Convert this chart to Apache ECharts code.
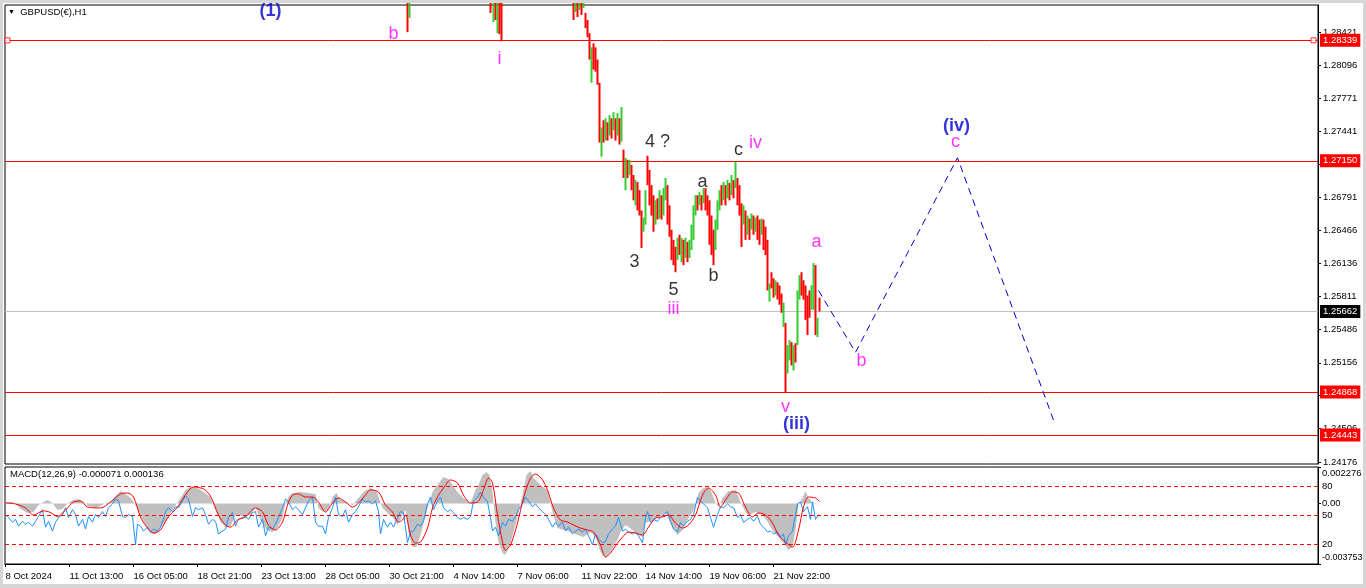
<!DOCTYPE html>
<html><head><meta charset="utf-8">
<script src="https://cdn.jsdelivr.net/npm/echarts@6/dist/echarts.min.js"></script>
<style>
html,body{margin:0;padding:0;background:#fff;}
#c{position:absolute;left:0;top:0;width:1366px;height:588px;}
#frame{position:absolute;left:0;top:0;width:1366px;height:588px;box-sizing:border-box;
  border-style:solid;border-color:#d6d6d6;border-width:3px 3px 4px 3px;pointer-events:none;}
</style></head><body>
<div id="c"></div>
<div id="frame"></div>
<script>
// ---------- DATA ----------
const timeLabels = ['8 Oct 2024','11 Oct 13:00','16 Oct 05:00','18 Oct 21:00','23 Oct 13:00','28 Oct 05:00','30 Oct 21:00','4 Nov 14:00','7 Nov 06:00','11 Nov 22:00','14 Nov 14:00','19 Nov 06:00','21 Nov 22:00'];
const hoursPerLabel = 64;
const totalSlots = 1313;
const priceTicks = [1.28421,1.28096,1.27771,1.27441,1.27116,1.26791,1.26466,1.26136,1.25811,1.25486,1.25156,1.24831,1.24506,1.24176];
const priceMin = 1.24157, priceMax = 1.28688;

const candleIdx = [402,404,485,488,490,492,494,496,568,570,572,574,576,578,
580,582,584,586,588,590,592,594,596,598,600,602,604,606,608,610,612,614,616,618,620,622,624,626,628,630,632,634,636,638,640,642,644,646,648,650,652,654,656,658,660,662,664,666,668,670,672,674,676,678,680,682,684,686,688,690,692,694,696,698,700,702,704,706,708,710,712,714,716,718,720,722,724,726,728,730,732,734,736,738,740,742,744,746,748,750,752,754,756,758,760,762,764,766,768,770,772,774,776,778,780,782,784,786,788,790,792,794,796,798,800,802,804,806,808,810,812,814];
const candleOpen = [1.2890,1.2856,1.2890,1.2852,1.2890,1.2841,1.2890,1.2890,1.2890,1.2862,1.2890,1.2864,1.2890,1.2866,
1.2861,1.2854,1.2841,1.2792,1.2831,1.2827,1.2815,1.2792,1.2719,1.2755,1.2735,1.2753,1.2740,1.2757,1.2745,1.2757,1.2740,1.2757,1.2734,1.2726,1.2686,1.2716,1.2701,1.2711,1.2701,1.2671,1.2694,1.2686,1.2666,1.2645,1.2652,1.2720,1.2706,1.2691,1.2681,1.2652,1.2678,1.2658,1.2681,1.2661,1.2676,1.2691,1.2671,1.2647,1.2637,1.2630,1.2617,1.2642,1.2615,1.2637,1.2619,1.2635,1.2619,1.2627,1.2637,1.2661,1.2681,1.2671,1.2681,1.2673,1.2688,1.2681,1.2676,1.2661,1.2647,1.2627,1.2647,1.2666,1.2691,1.2676,1.2691,1.2678,1.2693,1.2681,1.2696,1.2688,1.2698,1.2691,1.2673,1.2652,1.2666,1.2642,1.2658,1.2647,1.2661,1.2645,1.2661,1.2657,1.2642,1.2657,1.2650,1.2637,1.2576,1.2605,1.2599,1.2582,1.2595,1.2592,1.2584,1.2551,1.2555,1.2505,1.2518,1.2536,1.2508,1.2535,1.2533,1.2578,1.2605,1.2597,1.2592,1.2582,1.2587,1.2568,1.2568,1.2612,1.2541,1.2580];
const candleClose = [1.2842,1.2890,1.2861,1.2890,1.2854,1.2890,1.2840,1.2833,1.2854,1.2890,1.2857,1.2890,1.2859,1.2890,
1.2846,1.2837,1.2815,1.2827,1.2805,1.2803,1.2790,1.2733,1.2748,1.2733,1.2757,1.2735,1.2760,1.2737,1.2763,1.2735,1.2762,1.2731,1.2768,1.2698,1.2718,1.2698,1.2716,1.2686,1.2676,1.2696,1.2666,1.2661,1.2629,1.2659,1.2686,1.2691,1.2671,1.2661,1.2645,1.2676,1.2657,1.2686,1.2657,1.2688,1.2698,1.2652,1.2640,1.2617,1.2612,1.2605,1.2639,1.2622,1.2639,1.2612,1.2639,1.2615,1.2637,1.2652,1.2671,1.2681,1.2666,1.2684,1.2666,1.2688,1.2666,1.2661,1.2632,1.2622,1.2612,1.2657,1.2676,1.2686,1.2671,1.2694,1.2671,1.2696,1.2676,1.2701,1.2678,1.2714,1.2671,1.2661,1.2630,1.2671,1.2637,1.2661,1.2637,1.2663,1.2642,1.2659,1.2637,1.2632,1.2658,1.2627,1.2622,1.2587,1.2594,1.2589,1.2580,1.2597,1.2578,1.2573,1.2565,1.2575,1.24868,1.2533,1.2538,1.2513,1.2533,1.2516,1.2587,1.2602,1.2582,1.2578,1.2558,1.2543,1.2560,1.2592,1.2614,1.2543,1.2560,1.25662];

const levelPrices = [1.28339, 1.27150, 1.24868, 1.24443];
const bidPrice = 1.25662;
const selectedLevelEnds = [2, 1308];   // anchor squares of the selected 1.28339 line

const projIdx = [813, 850, 952, 1048];
const projPrice = [1.2587, 1.2526, 1.2718, 1.2459];

const blueText = ['(1)','(iii)','(iv)'];
const blueIdx = [265, 791, 951];
const bluePrice = [1.2863, 1.2455, 1.2749];
const magentaText = ['b','i','iv','iii','a','b','v','c'];
const magentaIdx = [388, 494, 750, 668, 811, 856, 780, 950];
const magentaPrice = [1.2840, 1.2815, 1.2733, 1.2569, 1.2635, 1.2517, 1.2472, 1.2734];
const blackText = ['4 ?','c','a','3','b','5'];
const blackIdx = [652, 733, 697, 629, 708, 668];
const blackPrice = [1.2734, 1.2726, 1.2694, 1.2615, 1.2601, 1.2587];

const macdMainIdx = [0,7,10,15,22,28,33,38,42,47,52,57,62,68,73,78,83,90,95,100,105,110,115,120,125,130,135,140,145,150,155,162,168,175,180,185,192,198,205,210,215,220,225,230,237,245,250,255,261,267,272,277,280,283,287,295,303,310,313,318,323,327,331,335,341,347,353,359,365,371,377,382,387,392,397,400,403,407,411,415,422,427,432,438,443,447,452,458,465,470,473,477,481,484,487,490,493,497,500,505,510,513,517,521,525,528,535,542,547,552,558,565,572,578,585,590,595,600,605,612,615,620,627,633,637,640,647,653,660,667,672,677,682,687,690,693,698,702,705,710,713,717,723,730,735,740,743,750,757,763,768,773,778,783,787,790,793,797,800,803,807,810,814];
const macdMain = [0.00010,0.00010,-0.00002,-0.00034,-0.00058,-0.00052,-0.00009,0.00010,0.00022,0.00004,-0.00040,-0.00034,0.00004,0.00022,0.00029,0.00010,-0.00015,-0.00027,-0.00015,0.00004,0.00010,0.00047,0.00078,0.00060,0.00035,-0.00009,-0.00071,-0.00133,-0.00183,-0.00190,-0.00152,-0.00090,-0.00027,0.00035,0.00085,0.00103,0.00097,0.00072,0.00041,-0.00040,-0.00114,-0.00146,-0.00140,-0.00071,-0.00077,-0.00071,-0.00021,-0.00102,-0.00164,-0.00177,-0.00152,-0.00090,0.00004,0.00041,0.00066,0.00072,0.00066,0.00060,-0.00027,-0.00052,-0.00040,0.00041,0.00066,0.00022,0.00010,-0.00009,0.00035,0.00078,0.00097,0.00078,-0.00027,-0.00058,-0.00083,-0.00133,-0.00071,-0.00040,-0.00177,-0.00270,-0.00270,-0.00195,-0.00027,0.00072,0.00116,0.00165,0.00153,0.00116,0.00072,0.00035,0.00004,0.00085,0.00116,0.00178,0.00197,0.00178,0.00072,-0.00114,-0.00239,-0.00307,-0.00320,-0.00245,-0.00133,-0.00052,0.00053,0.00178,0.00203,0.00159,0.00116,0.00085,-0.00052,-0.00152,-0.00164,-0.00177,-0.00195,-0.00208,-0.00177,-0.00208,-0.00301,-0.00338,-0.00301,-0.00226,-0.00177,-0.00133,-0.00164,-0.00195,-0.00208,-0.00121,-0.00102,-0.00083,-0.00058,-0.00146,-0.00195,-0.00164,-0.00102,-0.00052,-0.00009,0.00066,0.00097,0.00103,0.00085,0.00004,-0.00021,0.00035,0.00078,0.00085,0.00010,-0.00052,-0.00071,-0.00052,-0.00071,-0.00121,-0.00177,-0.00208,-0.00245,-0.00289,-0.00270,-0.00164,-0.00009,0.00035,0.00078,0.00035,0.00010,-0.00002,-0.000071];

const signalIdx = [0,10,20,28,38,45,52,60,68,75,82,95,105,115,122,128,135,142,148,155,162,172,182,188,198,205,213,220,225,232,240,250,257,263,270,277,282,287,293,300,307,313,320,327,333,340,347,353,360,365,373,380,387,393,397,400,405,410,415,422,427,432,438,445,452,458,465,472,478,483,487,492,497,500,505,512,518,525,530,537,542,548,555,562,568,575,582,588,595,600,605,612,617,623,630,637,643,650,657,663,670,677,683,690,697,703,710,715,720,727,733,740,747,753,760,767,773,780,787,793,798,803,810,814];
const macdSignal = [0.00004,-0.00002,-0.00027,-0.00071,-0.00045,-0.00055,-0.00080,-0.00040,0.00010,0.00016,-0.00021,-0.00027,0.00010,0.00060,0.00066,0.00041,-0.00083,-0.00152,-0.00183,-0.00164,-0.00090,-0.00021,0.00072,0.00103,0.00091,0.00047,-0.00071,-0.00133,-0.00146,-0.00102,-0.00083,-0.00027,-0.00052,-0.00133,-0.00164,-0.00114,-0.00009,0.00053,0.00060,0.00041,0.00041,0.00010,-0.00052,0.00004,0.00035,0.00010,-0.00021,0.00004,0.00053,0.00085,0.00072,-0.00009,-0.00052,-0.00114,-0.00102,-0.00071,-0.00195,-0.00245,-0.00239,-0.00152,-0.00027,0.00041,0.00097,0.00147,0.00128,0.00053,0.00004,0.00010,0.00085,0.00159,0.00128,-0.00071,-0.00239,-0.00289,-0.00258,-0.00121,0.00035,0.00159,0.00184,0.00147,0.00085,-0.00027,-0.00102,-0.00114,-0.00133,-0.00152,-0.00164,-0.00177,-0.00258,-0.00332,-0.00307,-0.00245,-0.00208,-0.00177,-0.00183,-0.00195,-0.00146,-0.00090,-0.00083,-0.00071,-0.00121,-0.00152,-0.00133,-0.00071,0.00053,0.00097,0.00053,-0.00021,0.00022,0.00072,0.00066,-0.00021,-0.00083,-0.00058,-0.00071,-0.00121,-0.00195,-0.00239,-0.00270,-0.00164,-0.00021,0.00041,0.00035,0.000136];

const oscIdx = [0,3,7,10,13,17,20,23,27,30,33,37,40,43,47,50,53,57,60,63,67,70,73,77,80,83,87,90,93,97,100,103,107,110,113,117,120,123,127,130,132,135,138,142,145,148,152,155,158,160,163,167,170,173,177,180,183,187,190,193,197,200,203,207,210,213,217,220,223,227,230,233,237,240,243,247,250,253,257,260,263,267,270,273,277,280,283,287,290,293,297,300,303,307,310,313,317,320,323,327,330,333,337,340,343,347,350,353,357,360,363,367,370,373,375,378,382,385,388,392,395,398,402,405,408,412,415,418,422,425,428,432,435,438,442,445,448,452,455,458,462,465,468,472,475,478,482,485,487,490,493,497,500,503,507,510,513,517,520,523,527,530,533,537,540,543,547,550,553,557,560,563,567,570,573,577,580,583,587,590,593,597,600,603,607,610,613,617,620,623,627,630,633,637,640,642,645,648,652,655,658,662,665,668,672,675,678,682,685,688,692,695,698,702,705,708,712,715,718,722,725,728,732,735,738,742,745,748,752,755,758,762,765,768,772,775,778,780,783,787,790,792,795,798,802,805,807,810,813];
const oscValues = [51,48,43,46,39,44,41,43,39,44,49,56,38,44,34,43,48,51,58,48,56,51,39,46,36,49,43,51,48,54,49,58,62,67,65,49,48,51,49,20,41,39,34,38,33,36,34,38,46,54,58,54,59,58,65,70,67,49,58,56,58,51,41,46,44,31,34,36,48,53,39,46,48,49,46,53,54,38,46,29,38,36,41,48,58,67,64,56,59,56,51,58,65,69,43,39,39,31,48,58,69,51,49,56,43,51,54,59,67,64,65,62,65,54,31,46,38,43,38,48,54,53,22,33,34,41,39,44,62,69,56,65,69,58,54,56,53,48,46,48,46,49,65,69,74,69,64,48,34,38,29,43,39,46,44,49,56,62,69,65,59,62,58,54,51,46,38,43,39,43,34,38,31,34,36,33,36,29,20,31,26,22,23,31,36,39,48,34,36,33,31,33,29,22,48,54,43,46,44,48,51,54,44,36,33,43,39,44,46,51,69,65,62,58,48,38,51,59,58,62,59,58,48,51,43,46,48,44,49,41,38,33,34,31,33,28,31,20,29,34,51,62,64,54,59,46,64,46,51];
const oscLevels = [80, 50, 20];
const macdAxisValues = [-0.003753, 0, 0.002276];

// ---------- BUILD ----------
const FONT = 'Liberation Sans, Arial, sans-serif';
const AX = 9.5;
const categories = [];
for (let i = 0; i < totalSlots; i++) {
  const k = i / hoursPerLabel;
  categories.push(i % hoursPerLabel === 0 && k < timeLabels.length ? timeLabels[k] : '');
}
const tickFn = (i) => i % hoursPerLabel === 0 && i / hoursPerLabel < timeLabels.length;

const candleData = candleIdx.map((x, i) => {
  const o = candleOpen[i], c = candleClose[i];
  return [x, o, c, Math.min(o, c), Math.max(o, c)];
});
const pairs = (xs, ys) => xs.map((x, i) => [x, ys[i]]);

const labelSeries = (texts, xs, ys, color, size, weight) => ({
  type: 'scatter', xAxisIndex: 0, yAxisIndex: 0, silent: true,
  symbolSize: 1, itemStyle: { color: 'rgba(0,0,0,0)' },
  data: pairs(xs, ys),
  label: { show: true, position: 'inside', color: color, fontSize: size, fontWeight: weight, fontFamily: FONT,
           formatter: (p) => texts[p.dataIndex] },
  z: 10
});

const markLineData = levelPrices.map(p => ({
  yAxis: p,
  lineStyle: { color: '#ff0000', width: 1, type: 'solid' },
  label: { formatter: p.toFixed(5), backgroundColor: '#ff0000', color: '#ffffff' }
})).concat([{
  yAxis: bidPrice,
  lineStyle: { color: '#c0c0c0', width: 1, type: 'solid' },
  label: { formatter: bidPrice.toFixed(5), backgroundColor: '#000000', color: '#ffffff' }
}]);

const chart = echarts.init(document.getElementById('c'), null, { renderer: 'canvas' });
chart.setOption({
  animation: false,
  backgroundColor: '#ffffff',
  title: [
    { text: '{t|▼}  GBPUSD(€),H1', left: 8, top: 7, padding: 0,
      textStyle: { fontSize: 9.5, fontWeight: 'normal', color: '#000', fontFamily: FONT,
        rich: { t: { fontSize: 7, color: '#000' } } } },
    { text: 'MACD(12,26,9) -0.000071 0.000136', left: 10, top: 469, padding: 0,
      textStyle: { fontSize: 9.5, fontWeight: 'normal', color: '#000', fontFamily: FONT } }
  ],
  grid: [
    { left: 5, right: 48, top: 5, height: 459, show: true, borderColor: '#000', borderWidth: 1,
      backgroundColor: '#fff', containLabel: false, outerBoundsMode: 'none' },
    { left: 5, right: 48, top: 467, height: 97, show: true, borderColor: '#000', borderWidth: 1,
      backgroundColor: '#fff', containLabel: false, outerBoundsMode: 'none' }
  ],
  xAxis: [
    { type: 'category', gridIndex: 0, data: categories, boundaryGap: true,
      axisLine: { show: false, onZero: false }, axisTick: { show: false }, axisLabel: { show: false }, splitLine: { show: false } },
    { type: 'category', gridIndex: 1, data: categories, boundaryGap: true,
      axisLine: { show: true, onZero: false, lineStyle: { color: '#000' } },
      axisTick: { show: true, interval: tickFn, alignWithLabel: true, length: 3, lineStyle: { color: '#000' } },
      axisLabel: { show: true, interval: tickFn, align: 'left', margin: 7, color: '#000', fontSize: AX, fontFamily: FONT },
      splitLine: { show: false } }
  ],
  yAxis: [
    { type: 'value', gridIndex: 0, position: 'right', min: priceMin, max: priceMax, scale: true,
      axisLine: { show: true, lineStyle: { color: '#000' } },
      axisTick: { show: true, length: 3, customValues: priceTicks, lineStyle: { color: '#000' } },
      axisLabel: { show: true, customValues: priceTicks, formatter: (v) => v.toFixed(5), color: '#000',
        fontSize: AX, fontFamily: FONT, margin: 5 },
      splitLine: { show: false } },
    { type: 'value', gridIndex: 1, position: 'right', min: macdAxisValues[0], max: macdAxisValues[2],
      axisLine: { show: true, lineStyle: { color: '#000' } },
      axisTick: { show: true, length: 3, customValues: macdAxisValues, lineStyle: { color: '#000' } },
      axisLabel: { show: true, customValues: macdAxisValues, color: '#000', fontSize: AX, fontFamily: FONT, margin: 4,
        formatter: (v) => v === macdAxisValues[2] ? '{top|' + v.toFixed(6) + '}' :
                          v === macdAxisValues[0] ? '{bot|' + v.toFixed(6) + '}' : '0.00',
        rich: { top: { padding: [12, 0, 0, 0], fontSize: AX, fontFamily: FONT, color: '#000' },
                bot: { padding: [0, 0, 12, 0], fontSize: 9, fontFamily: FONT, color: '#000' } } },
      splitLine: { show: false } },
    { type: 'value', gridIndex: 1, position: 'right', min: 0, max: 100,
      axisLine: { show: false }, axisTick: { show: false },
      axisLabel: { show: true, customValues: oscLevels, color: '#000', fontSize: AX, fontFamily: FONT, margin: 4,
        formatter: (v) => String(v) },
      splitLine: { show: false } }
  ],
  series: [
    { type: 'candlestick', xAxisIndex: 0, yAxisIndex: 0, clip: true, barWidth: 2,
      data: candleData, encode: { x: 0, y: [1, 2, 3, 4] },
      itemStyle: { color: '#32cd32', color0: '#ff0000', borderColor: '#32cd32', borderColor0: '#ff0000', borderWidth: 0 },
      z: 5 },
    { type: 'line', xAxisIndex: 0, yAxisIndex: 0, silent: true, symbol: 'none',
      data: pairs(projIdx, projPrice),
      lineStyle: { color: '#0000cd', width: 1, type: [7, 5] }, z: 6,
      markLine: { silent: true, symbol: ['none', 'none'], animation: false, precision: 5,
        label: { show: true, position: 'end', distance: 2, padding: [2, 3, 1, 3], fontSize: AX, fontFamily: FONT },
        data: markLineData } },
    { type: 'scatter', xAxisIndex: 0, yAxisIndex: 0, silent: true, symbol: 'rect', symbolSize: 5,
      data: selectedLevelEnds.map(x => [x, levelPrices[0]]),
      itemStyle: { color: '#ffffff', borderColor: '#ff0000', borderWidth: 1 }, z: 8 },
    labelSeries(blueText, blueIdx, bluePrice, '#0000cd', 18, 'bold'),
    labelSeries(magentaText, magentaIdx, magentaPrice, '#ff00ff', 18, 'normal'),
    labelSeries(blackText, blackIdx, blackPrice, '#000000', 18, 'normal'),
    { type: 'line', xAxisIndex: 1, yAxisIndex: 1, silent: true, symbol: 'none',
      data: pairs(macdMainIdx, macdMain),
      lineStyle: { width: 0, color: '#c0c0c0' }, areaStyle: { color: '#c0c0c0', opacity: 1, origin: 0 }, z: 2 },
    { type: 'line', xAxisIndex: 1, yAxisIndex: 2, silent: true, symbol: 'none',
      data: pairs(oscIdx, oscValues),
      lineStyle: { width: 1, color: '#1e90ff' }, z: 4,
      markLine: { silent: true, symbol: ['none', 'none'], label: { show: false },
        lineStyle: { color: '#ff0000', width: 1, type: [4, 3] },
        data: oscLevels.map(v => ({ yAxis: v })) } },
    { type: 'line', xAxisIndex: 1, yAxisIndex: 1, silent: true, symbol: 'none', smooth: 0.3,
      data: pairs(signalIdx, macdSignal),
      lineStyle: { width: 1, color: '#ff0000' }, z: 5 }
  ]
});
</script>
</body></html>
